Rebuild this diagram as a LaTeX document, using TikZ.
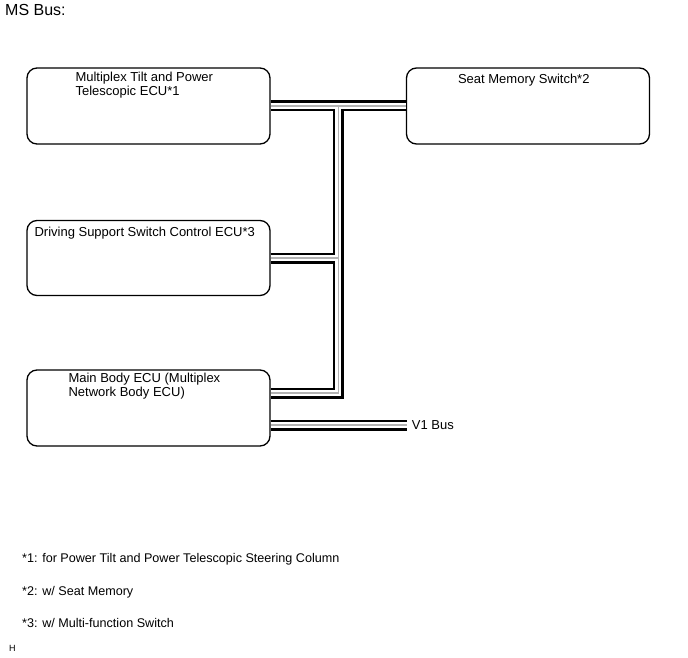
\documentclass[tikz,border=0pt]{standalone}
\usepackage{fontspec}
\setmainfont{Liberation Sans}
\usetikzlibrary{calc}
\usetikzlibrary{positioning}
\tikzstyle{ecunode} = [draw, rectangle, rounded corners=10pt, line width=1.3pt, minimum width=243pt, minimum height=76pt]
\tikzstyle{txtnode} = [anchor=north west, inner sep=0pt, align=left, font=\fontsize{13}{14}\selectfont]
\tikzstyle{notenode} = [txtnode, font=\fontsize{12.6}{14}\selectfont]
\tikzstyle{busline} = [line join=miter]

\begin{document}
\begin{tikzpicture}[x=1pt, y=-1pt]
\useasboundingbox (0,0) rectangle (688,658);
\node[txtnode, font=\fontsize{16}{18}\selectfont] (title) at (5,4) {MS Bus:};
\node[ecunode] (tilt) at (148.5,106) {};
\node[ecunode] (seat) at (528,106) {};
\node[ecunode, minimum height=75pt] (drive) at (148.5,258) {};
\node[ecunode] (body) at (148.5,408) {};
\node[txtnode] (tilttxt) at ($(tilt.north west)+(49,5)$) {Multiplex Tilt and Power\\Telescopic ECU*1};
\node[txtnode] (seattxt) at ($(seat.north west)+(52,7)$) {Seat Memory Switch*2};
\node[txtnode] (drivetxt) at ($(drive.north west)+(8,7)$) {Driving Support Switch Control ECU*3};
\node[txtnode] (bodytxt) at ($(body.north west)+(42,4)$) {Main Body ECU (Multiplex\\Network Body ECU)};
% bus points
\coordinate (jtop) at ($(tilt.east)!0.5!(seat.west)$);
\coordinate (bodyin) at ([yshift=15pt]body.east);
\coordinate (v1in) at ([yshift=-17pt]body.east);
\node[txtnode, anchor=west] (v1) at ($(v1in)+(141,0)$) {V1 Bus};
\foreach \w/\c in {11/black, 6/white, 1.5/gray!60} {
  \draw[busline, line width=\w pt, \c] (tilt.east) -- (seat.west);
  \draw[busline, line width=\w pt, \c] (jtop) -- (jtop |- bodyin) -- (bodyin);
  \draw[busline, line width=\w pt, \c] (drive.east) -- (jtop |- drive.east);
  \draw[busline, line width=\w pt, \c] (v1in) -- ([xshift=-5pt]v1.west);
}
% notes
\node[notenode] (note1) at (22,553) {*1: for Power Tilt and Power Telescopic Steering Column};
\node[notenode] (note2) at (22,586) {*2: w/ Seat Memory};
\node[notenode] (note3) at (22,618) {*3: w/ Multi-function Switch};
\node[txtnode, font=\fontsize{9}{10}\selectfont] (hmark) at (9,645) {H};
\end{tikzpicture}
\end{document}
